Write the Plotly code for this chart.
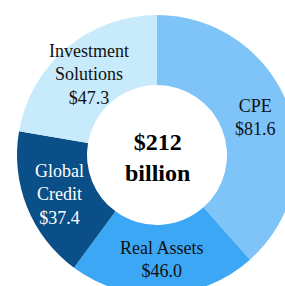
import math
import plotly.graph_objects as go

labels = ["CPE", "Real Assets", "Global Credit", "Investment Solutions"]
display_labels = ["CPE", "Real Assets", "Global<br>Credit", "Investment<br>Solutions"]
values = [81.6, 46.0, 37.4, 47.3]
colors = ["#7fc4f8", "#3ca7f5", "#0a4f88", "#c8ebfb"]
label_colors = ["#111111", "#111111", "#ffffff", "#111111"]
center_unit = "billion"

W, H = 300, 300
cx, cy, R = 157, 155, 140
HOLE = 0.5

fig = go.Figure(go.Pie(
    labels=labels,
    values=values,
    marker=dict(colors=colors, line=dict(width=0)),
    hole=HOLE,
    sort=False,
    direction="clockwise",
    rotation=0,
    textinfo="none",
    hoverinfo="label+value",
    showlegend=False,
    domain=dict(x=[(cx - R) / W, (cx + R) / W],
                y=[(H - (cy + R)) / H, (H - (cy - R)) / H]),
))

total = sum(values)
annotations = []
cum = 0.0
rm = R * (1 + HOLE) / 2
for lab, v, col in zip(display_labels, values, label_colors):
    mid = (cum + v / 2) / total * 2 * math.pi
    cum += v
    px = cx + rm * math.sin(mid)
    py = cy - rm * math.cos(mid)
    annotations.append(dict(
        x=px / W, y=1 - py / H, xref="paper", yref="paper",
        text=f"{lab}<br>${v:.1f}", showarrow=False,
        font=dict(family="Liberation Serif", size=18, color=col),
        xanchor="center", yanchor="middle",
    ))

annotations.append(dict(
    x=cx / W, y=1 - (cy + 2) / H, xref="paper", yref="paper",
    text=f"<b>${total:.0f}<br>{center_unit}</b>", showarrow=False,
    font=dict(family="Liberation Serif", size=24, color="#000000"),
    xanchor="center", yanchor="middle",
))

fig.update_layout(
    width=W, height=H,
    margin=dict(l=0, r=0, t=0, b=0),
    paper_bgcolor="white",
    plot_bgcolor="white",
    annotations=annotations,
)

fig.write_html("out.html",
               config={"displayModeBar": False},
               post_script="document.body.style.margin='0';document.body.style.overflow='hidden';")
